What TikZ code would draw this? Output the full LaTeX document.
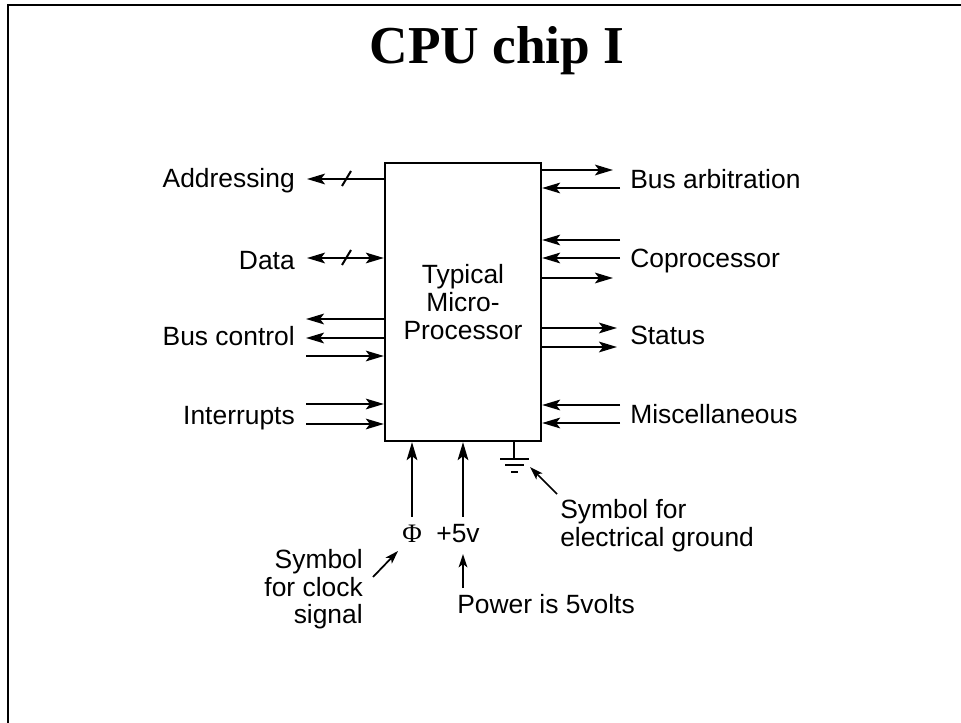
\documentclass[tikz,border=0pt]{standalone}
\usepackage{fontspec}
\setmainfont{Liberation Sans}
\newfontfamily\titleserif{Liberation Serif}
\usetikzlibrary{arrows.meta,calc}
\tikzset{
  lbl/.style={font=\fontsize{19.8}{20.8}\selectfont, inner sep=0pt},
  sig/.style={line width=1.7pt, -{Stealth[length=13.5pt,width=8pt,inset=3pt]}},
  sigboth/.style={line width=1.7pt, {Stealth[length=13.5pt,width=8pt,inset=3pt]}-{Stealth[length=13.5pt,width=8pt,inset=3pt]}},
  note/.style={line width=1.3pt, -{Stealth[length=10pt,width=6.5pt,inset=2.5pt]}},
  busmark/.style={line width=1.5pt},
  gndline/.style={line width=1.7pt},
  chip/.style={draw, line width=1.7pt, minimum width=117pt, minimum height=208.5pt,
    font=\fontsize{19.8}{20.8}\selectfont, align=center, inner sep=0pt},
}
\begin{document}
\begin{tikzpicture}[x=0.75pt, y=-0.75pt]
\useasboundingbox (0,0) rectangle (961,723);
% slide frame
\draw[line width=1.5pt] (8,723) -- (8,5) -- (961,5);
% title
\node[font=\titleserif\bfseries\fontsize{40}{44}\selectfont, anchor=base, inner sep=0pt] (title) at (497,64) {CPU chip I};
% chip
\node[chip] (cpu) at (463,302) {Typical\\Micro-\\Processor};

% ---------- left side ----------
\node[lbl, anchor=base east] (addr) at (295,188) {Addressing};
\node[lbl, anchor=base east] (data) at (295,270) {Data};
\node[lbl, anchor=base east] (busc) at (295,346) {Bus control};
\node[lbl, anchor=base east] (intr) at (295,425) {Interrupts};

\coordinate (a1) at (307,179);
\coordinate (d1) at (307,258);
\coordinate (b1) at (306,319);
\coordinate (b2) at (306,338);
\coordinate (b3) at (306,356);
\coordinate (i1) at (306,404);
\coordinate (i2) at (306,424);

\draw[sig] (cpu.west |- a1) -- (a1);
\draw[sigboth] (d1) -- (cpu.west |- d1);
\draw[sig] (cpu.west |- b1) -- (b1);
\draw[sig] (cpu.west |- b2) -- (b2);
\draw[sig] (b3) -- (cpu.west |- b3);
\draw[sig] (i1) -- (cpu.west |- i1);
\draw[sig] (i2) -- (cpu.west |- i2);
% bus width marks
\draw[busmark] ($(a1)+(35,7)$) -- ($(a1)+(44,-8)$);
\draw[busmark] ($(d1)+(35,7)$) -- ($(d1)+(44,-8)$);

% ---------- right side ----------
\node[lbl, anchor=base west] (arb) at (630,189) {Bus arbitration};
\node[lbl, anchor=base west] (cop) at (630,268) {Coprocessor};
\node[lbl, anchor=base west] (stat) at (630,345) {Status};
\node[lbl, anchor=base west] (misc) at (630,424) {Miscellaneous};

\coordinate (r1) at (613,170);
\coordinate (r2) at (620,188);
\coordinate (r3) at (620,240);
\coordinate (r4) at (620,258);
\coordinate (r5) at (613,278);
\coordinate (r6) at (617,328);
\coordinate (r7) at (617,347);
\coordinate (r8) at (620,405);
\coordinate (r9) at (620,423);

\draw[sig] (cpu.east |- r1) -- (r1);
\draw[sig] (r2) -- (cpu.east |- r2);
\draw[sig] (r3) -- (cpu.east |- r3);
\draw[sig] (r4) -- (cpu.east |- r4);
\draw[sig] (cpu.east |- r5) -- (r5);
\draw[sig] (cpu.east |- r6) -- (r6);
\draw[sig] (cpu.east |- r7) -- (r7);
\draw[sig] (r8) -- (cpu.east |- r8);
\draw[sig] (r9) -- (cpu.east |- r9);

% ---------- bottom ----------
\coordinate (clk) at (412,517);
\coordinate (pwr) at (463,517);
\draw[sig] (clk) -- (cpu.south -| clk);
\draw[sig] (pwr) -- (cpu.south -| pwr);
\node[font=\titleserif\fontsize{20}{21}\selectfont, anchor=base, inner sep=0pt] (phi) at (412,542) {Φ};
\node[lbl, anchor=base] (v5) at (458,543) {+5v};

% ground symbol
\coordinate (gnd) at (514,459);
\draw[gndline] (cpu.south -| gnd) -- (gnd);
\draw[gndline] (500,459) -- (529,459);
\draw[gndline] (505,465) -- (524,465);
\draw[gndline] (511,472) -- (518,472);

% annotations
\node[lbl, anchor=north west, align=left] (gndtxt) at (560,499) {Symbol for\\electrical ground};
\node[lbl, anchor=north east, align=right] (clktxt) at (363,549) {Symbol\\for clock\\signal};
\node[lbl, anchor=base west] (pwrtxt) at (457,614) {Power is 5volts};

\coordinate (gt) at (557,494);
\coordinate (gh) at (530,467);
\draw[note] (gt) -- (gh);
\coordinate (ct) at (373,577);
\coordinate (ch) at (398,551);
\draw[note] (ct) -- (ch);
\coordinate (pt) at (463,588);
\coordinate (ph) at (463,554);
\draw[note] (pt) -- (ph);
\end{tikzpicture}
\end{document}
